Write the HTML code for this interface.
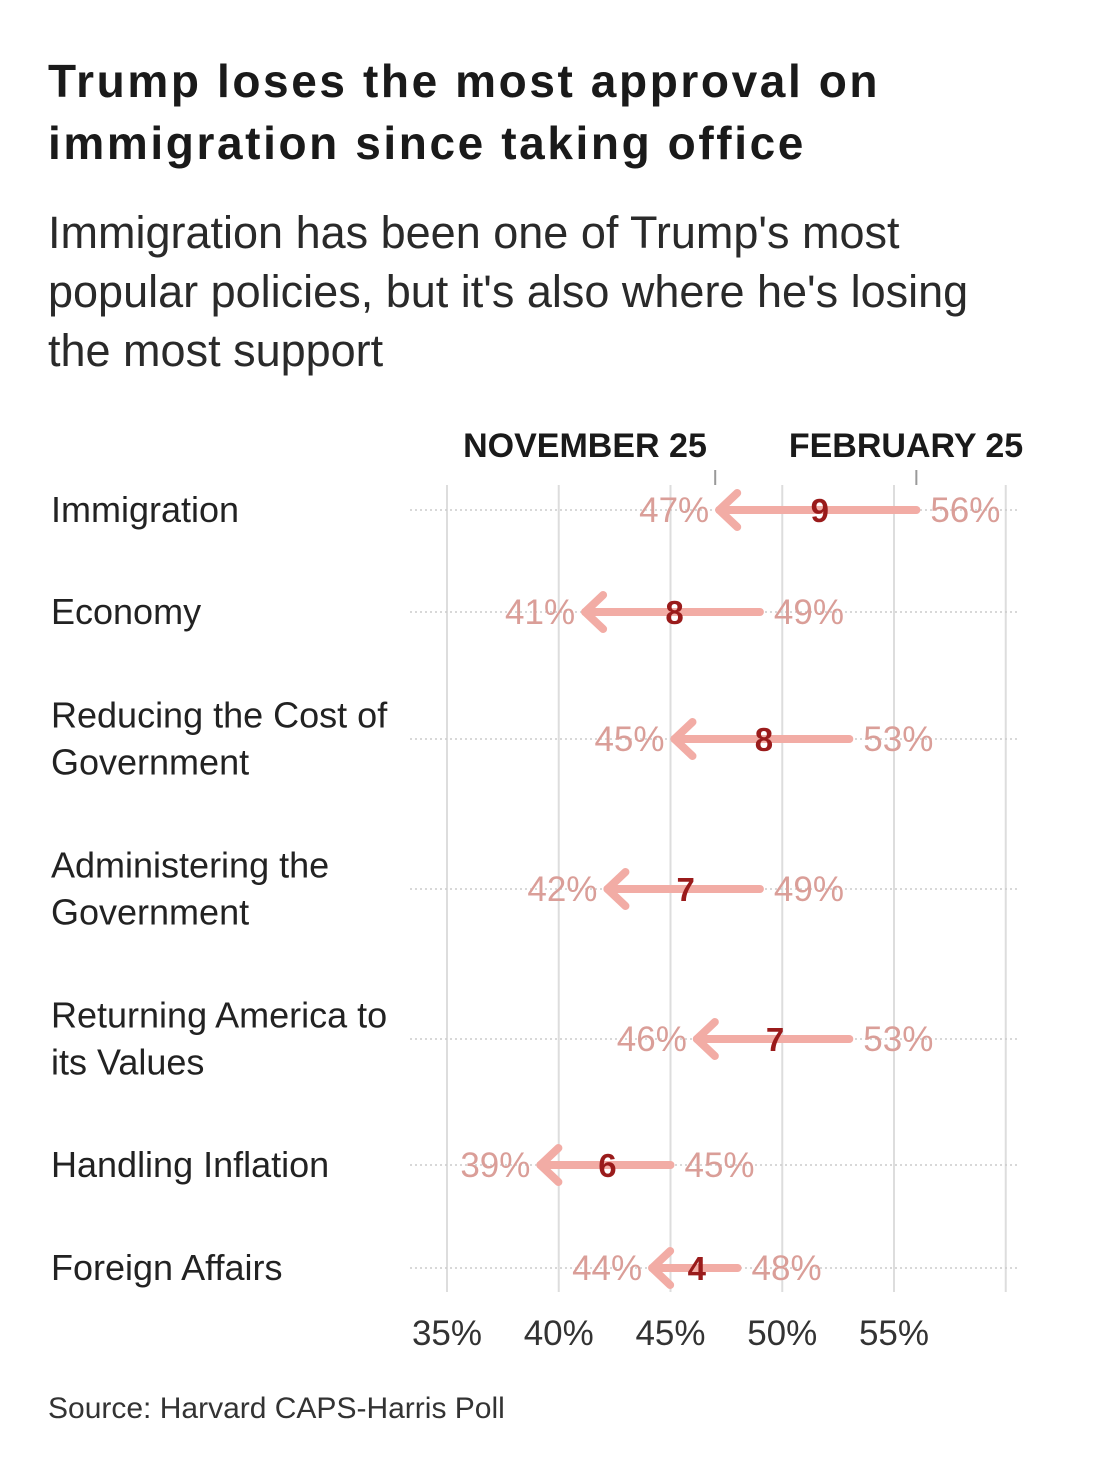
<!DOCTYPE html>
<html><head><meta charset="utf-8"><style>
body{margin:0;background:#fff;width:1100px;height:1472px;overflow:hidden;font-family:"Liberation Sans",sans-serif}
h1{position:absolute;left:48px;top:50px;margin:0;font-size:46px;letter-spacing:2.6px;line-height:62px;font-weight:bold;color:#1a1a1a;width:1040px}
.sub{position:absolute;left:48px;top:203px;font-size:45px;line-height:59px;color:#2a2a2a;width:1040px}
.src{position:absolute;left:48px;top:1392px;font-size:30px;color:#333}
svg{position:absolute;left:0;top:0}
</style></head><body>
<h1>Trump loses the most approval on<br>immigration since taking office</h1>
<div class="sub">Immigration has been one of Trump's most<br>popular policies, but it's also where he's losing<br>the most support</div>
<div class="src">Source: Harvard CAPS-Harris Poll</div>
<svg id="chart" width="1100" height="1472"></svg>
<script>
const categories=["Immigration","Economy","Reducing the Cost of|Government","Administering the|Government","Returning America to|its Values","Handling Inflation","Foreign Affairs"];
const novValues=[47,41,45,42,46,39,44];
const febValues=[56,49,53,49,53,45,48];
const tickValues=[35,40,45,50,55];
const tickLabels=["35%","40%","45%","50%","55%"];
const rowY=[510,612,739,889,1039,1165,1268];
const NS="http://www.w3.org/2000/svg";
const svg=document.getElementById('chart');
const x=v=>447+(v-35)*22.35;
function mk(t,a,p){const e=document.createElementNS(NS,t);for(const k in a)e.setAttribute(k,a[k]);(p||svg).appendChild(e);return e;}
[35,40,45,50,55,60].forEach(v=>{const l=mk('line',{x1:x(v),x2:x(v),y1:485,y2:1292,stroke:'#ddd','stroke-width':2});

});
tickValues.forEach((v,i)=>{const t=mk('text',{x:x(v),y:1345,'text-anchor':'middle','font-size':35,fill:'#333'});t.textContent=tickLabels[i];

});
const h1=mk('text',{x:585,y:457,'text-anchor':'middle','font-size':34,'font-weight':'bold',fill:'#1a1a1a'});h1.textContent='NOVEMBER 25';


const h2=mk('text',{x:906,y:457,'text-anchor':'middle','font-size':34,'font-weight':'bold',fill:'#1a1a1a'});h2.textContent='FEBRUARY 25';


mk('line',{x1:x(novValues[0]),x2:x(novValues[0]),y1:470,y2:485,stroke:'#999','stroke-width':2});
mk('line',{x1:x(febValues[0]),x2:x(febValues[0]),y1:470,y2:485,stroke:'#999','stroke-width':2});
categories.forEach((c,i)=>{
 const y=rowY[i],a=x(novValues[i]),b=x(febValues[i]);
 const g=mk('g',{});
 
 
 mk('line',{x1:410,x2:1018,y1:y,y2:y,stroke:'#ccc','stroke-width':1.5,'stroke-dasharray':'2 3'},g);
 const lines=c.split('|');
 lines.forEach((s,j)=>{const t=mk('text',{x:51,y:y+12+(j-(lines.length-1)/2)*47,'font-size':36,fill:'#222'},g);t.textContent=s;});
 mk('line',{x1:b,x2:a+4,y1:y,y2:y,stroke:'#f2aca5','stroke-width':8,'stroke-linecap':'round'},g);
 mk('polyline',{points:`${a+22},${y-17} ${a+4},${y} ${a+22},${y+17}`,fill:'none',stroke:'#f2aca5','stroke-width':8,'stroke-linecap':'round','stroke-linejoin':'round'},g);
 const tn=mk('text',{x:a-6,y:y+12,'text-anchor':'end','font-size':35,fill:'#da9e98'},g);tn.textContent=novValues[i]+'%';
 const tf=mk('text',{x:b+14,y:y+12,'font-size':35,fill:'#da9e98'},g);tf.textContent=febValues[i]+'%';
 const d=mk('text',{x:(a+b)/2+4,y:y+12,'text-anchor':'middle','font-size':33,'font-weight':'bold',fill:'#9a1b1b'},g);d.textContent=febValues[i]-novValues[i];
});
</script>
</body></html>
